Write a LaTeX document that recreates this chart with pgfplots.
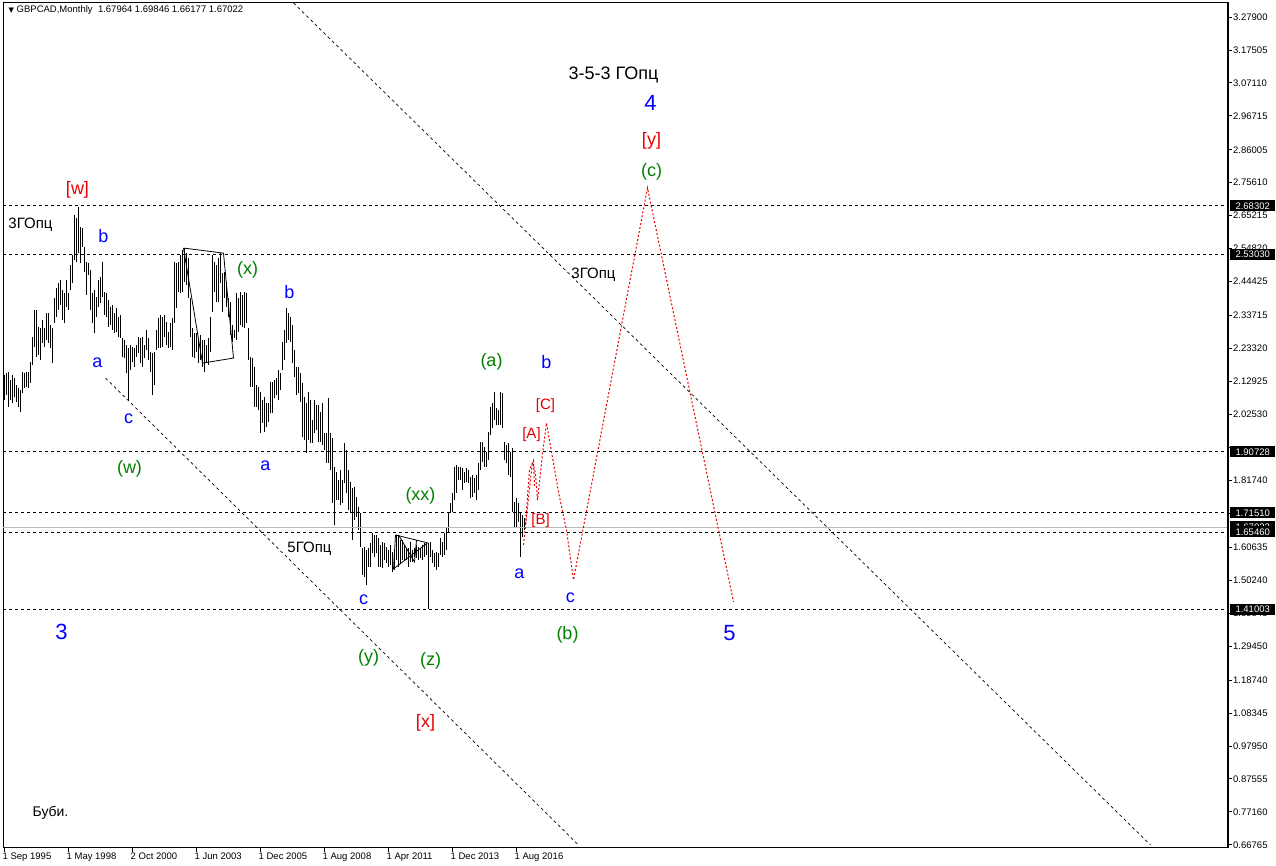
\documentclass[border=0pt]{standalone}
\usepackage{fontspec}
\setmainfont{Liberation Sans}
\newfontfamily\dejavu{DejaVu Sans}
\usepackage{pgfplots}
\usepackage{pgfplotstable}
\pgfplotsset{compat=1.18}
\definecolor{wblue}{RGB}{0,0,255}
\definecolor{wgreen}{RGB}{0,128,0}
\definecolor{wred}{RGB}{230,0,0}
\pgfplotstableread{
i h l
0 2.150 2.071
1 2.156 2.087
2 2.159 2.049
3 2.134 2.071
4 2.150 2.061
5 2.140 2.080
6 2.118 2.064
7 2.109 2.049
8 2.102 2.033
9 2.159 2.093
10 2.156 2.109
11 2.159 2.112
12 2.159 2.109
13 2.191 2.124
14 2.270 2.181
15 2.355 2.238
16 2.355 2.206
17 2.301 2.213
18 2.298 2.197
19 2.323 2.251
20 2.298 2.238
21 2.345 2.260
22 2.345 2.251
23 2.307 2.235
24 2.298 2.187
25 2.393 2.314
26 2.424 2.333
27 2.440 2.355
28 2.449 2.370
29 2.418 2.323
30 2.408 2.314
31 2.449 2.364
32 2.408 2.355
33 2.497 2.418
34 2.528 2.440
35 2.654 2.512
36 2.645 2.506
37 2.680 2.534
38 2.617 2.503
39 2.613 2.553
40 2.553 2.475
41 2.506 2.402
42 2.503 2.465
43 2.481 2.355
44 2.408 2.314
45 2.418 2.282
46 2.396 2.333
47 2.449 2.364
48 2.459 2.377
49 2.506 2.396
50 2.411 2.339
51 2.408 2.333
52 2.386 2.301
53 2.364 2.307
54 2.370 2.292
55 2.345 2.282
56 2.361 2.285
57 2.333 2.270
58 2.339 2.266
59 2.266 2.206
60 2.260 2.203
61 2.244 2.156
62 2.235 2.071
63 2.244 2.165
64 2.238 2.191
65 2.235 2.175
66 2.244 2.206
67 2.270 2.219
68 2.266 2.187
69 2.270 2.175
70 2.244 2.203
71 2.292 2.229
72 2.266 2.197
73 2.222 2.159
74 2.219 2.087
75 2.222 2.118
76 2.292 2.229
77 2.330 2.235
78 2.339 2.235
79 2.333 2.238
80 2.339 2.270
81 2.317 2.244
82 2.285 2.235
83 2.314 2.238
84 2.330 2.229
85 2.506 2.314
86 2.503 2.361
87 2.506 2.411
88 2.528 2.408
89 2.544 2.411
90 2.550 2.443
91 2.534 2.434
92 2.519 2.393
93 2.393 2.270
94 2.298 2.206
95 2.282 2.203
96 2.282 2.222
97 2.266 2.187
98 2.276 2.197
99 2.260 2.175
100 2.260 2.159
101 2.244 2.187
102 2.266 2.181
103 2.333 2.222
104 2.528 2.348
105 2.506 2.411
106 2.497 2.380
107 2.519 2.380
108 2.534 2.440
109 2.471 2.348
110 2.475 2.393
111 2.443 2.364
112 2.393 2.333
113 2.380 2.276
114 2.307 2.254
115 2.292 2.266
116 2.408 2.260
117 2.393 2.285
118 2.411 2.307
119 2.402 2.301
120 2.411 2.298
121 2.408 2.314
122 2.298 2.197
123 2.206 2.112
124 2.203 2.112
125 2.175 2.049
126 2.118 2.049
127 2.112 2.039
128 2.096 1.967
129 2.071 1.998
130 2.080 1.970
131 2.061 1.986
132 2.061 2.001
133 2.128 2.030
134 2.128 2.030
135 2.134 2.077
136 2.140 2.087
137 2.165 2.071
138 2.156 2.102
139 2.254 2.165
140 2.292 2.197
141 2.361 2.251
142 2.345 2.260
143 2.333 2.254
144 2.307 2.187
145 2.229 2.143
146 2.175 2.087
147 2.175 2.093
148 2.156 2.064
149 2.124 1.954
150 2.080 1.945
151 2.061 1.904
152 2.096 1.945
153 2.071 1.935
154 2.008 1.935
155 2.071 1.967
156 2.055 1.976
157 2.055 1.938
158 2.033 1.938
159 2.061 1.929
160 1.967 1.913
161 1.967 1.872
162 2.077 1.872
163 1.967 1.850
164 1.951 1.746
165 1.859 1.676
166 1.844 1.755
167 1.818 1.755
168 1.850 1.740
169 1.818 1.746
170 1.935 1.809
171 1.913 1.777
172 1.850 1.724
173 1.812 1.714
174 1.793 1.629
175 1.796 1.692
176 1.765 1.702
177 1.733 1.661
178 1.714 1.607
179 1.604 1.519
180 1.607 1.512
181 1.598 1.487
182 1.604 1.544
183 1.620 1.544
184 1.651 1.588
185 1.645 1.576
186 1.645 1.588
187 1.636 1.544
188 1.613 1.544
189 1.623 1.541
190 1.620 1.566
191 1.607 1.557
192 1.598 1.544
193 1.613 1.550
194 1.591 1.528
195 1.591 1.535
196 1.645 1.566
197 1.645 1.544
198 1.629 1.557
199 1.629 1.566
200 1.613 1.566
201 1.604 1.566
202 1.604 1.544
203 1.623 1.560
204 1.598 1.560
205 1.604 1.576
206 1.613 1.572
207 1.607 1.566
208 1.604 1.572
209 1.613 1.566
210 1.620 1.576
211 1.620 1.582
212 1.620 1.410
213 1.623 1.576
214 1.598 1.557
215 1.588 1.544
216 1.591 1.535
217 1.588 1.544
218 1.636 1.582
219 1.623 1.576
220 1.651 1.582
221 1.667 1.598
222 1.718 1.654
223 1.746 1.714
224 1.777 1.718
225 1.859 1.755
226 1.866 1.777
227 1.859 1.818
228 1.859 1.818
229 1.856 1.787
230 1.844 1.809
231 1.856 1.812
232 1.850 1.809
233 1.828 1.762
234 1.834 1.765
235 1.825 1.777
236 1.834 1.755
237 1.872 1.787
238 1.938 1.850
239 1.938 1.875
240 1.923 1.859
241 1.907 1.859
242 1.970 1.882
243 2.049 1.960
244 2.061 1.983
245 2.096 2.008
246 2.046 1.992
247 2.039 1.992
248 2.096 1.992
249 2.093 1.983
250 1.938 1.882
251 1.929 1.872
252 1.935 1.834
253 1.907 1.828
254 1.919 1.718
255 1.749 1.667
256 1.762 1.670
257 1.746 1.686
258 1.718 1.576
259 1.708 1.639
260 1.69846 1.66177
}\bars
\begin{document}
\begin{tikzpicture}
\useasboundingbox (0,0) rectangle (1276pt,866pt);
\begin{axis}[
  at={(3pt,18pt)}, anchor=south west,
  width=1225pt, height=845pt, scale only axis,
  xmin=-0.75, xmax=611.75, ymin=0.6575, ymax=3.3231,
  axis line style={black, line width=1pt},
  tick style={black, line width=0.8pt},
  tick align=outside, major tick length=4pt,
  xtick pos=lower, ytick pos=upper,
  xticklabel pos=lower, yticklabel pos=upper,
  xtick={0,32,64,96,128,160,192,224,256},
  xticklabels={1 Sep 1995, 1 May 1998, 2 Oct 2000, 1 Jun 2003, 1 Dec 2005, 1 Aug 2008, 1 Apr 2011, 1 Dec 2013, 1 Aug 2016},
  xticklabel style={anchor=north west, font=\fontsize{9.5}{11}\selectfont, inner sep=0pt, xshift=-2pt, yshift=-1pt},
  ytick={3.27900,3.17505,3.07110,2.96715,2.86005,2.75610,2.65215,2.54820,2.44425,2.33715,2.23320,2.12925,2.02530,1.92135,1.81740,1.71345,1.60635,1.50240,1.39845,1.29450,1.18740,1.08345,0.97950,0.87555,0.77160,0.66765},
  yticklabels={3.27900,3.17505,3.07110,2.96715,2.86005,2.75610,2.65215,2.54820,2.44425,2.33715,2.23320,2.12925,2.02530,{},1.81740,{},1.60635,1.50240,1.39845,1.29450,1.18740,1.08345,0.97950,0.87555,0.77160,0.66765},
  yticklabel style={anchor=west, font=\fontsize{9.5}{11}\selectfont, inner sep=0pt, xshift=1pt},
  clip=true,
]
% price bars (high-low)
\addplot[draw=none, no markers, forget plot,
  error bars/.cd, y dir=minus, y explicit, error mark=none,
  error bar style={draw=black, solid, line width=1pt}]
  table[x=i, y=h, y error minus expr=\thisrow{h}-\thisrow{l}] {\bars};
% current price line
\addplot[gray!55, line width=0.8pt] coordinates {(-0.75,1.67022) (611.75,1.67022)};
% horizontal levels
\foreach \lv in {2.68302,2.53030,1.90728,1.71510,1.65460,1.41003}{
  \edef\tmp{\noexpand\addplot[black, dash pattern=on 3pt off 3pt, line width=0.8pt] coordinates {(-0.75,\lv) (611.75,\lv)};}
  \tmp
}
% channel lines
\addplot[black, dash pattern=on 3pt off 3pt, line width=0.7pt] coordinates {(144.5,3.3231) (573,0.667)};
\addplot[black, dash pattern=on 3pt off 3pt, line width=0.7pt] coordinates {(50.5,2.140) (287,0.667)};
% drawn box and triangle
\addplot[black, line width=0.8pt] coordinates {(89.5,2.550) (109.5,2.534) (114.5,2.203) (99,2.187) (89.5,2.550)};
\addplot[black, line width=0.8pt] coordinates {(195.5,1.645) (194.5,1.538) (211.5,1.620) (195.5,1.645)};
\addplot[black, line width=0.8pt] coordinates {(197,1.645) (205,1.560) (206,1.628)};
% red projection
\addplot[wred, dash pattern=on 2pt off 2pt, line width=1pt] coordinates {(259.5,1.613) (263,1.820) (264,1.875) (265.5,1.840) (266.5,1.755) (269,1.900) (271,1.998) (277,1.780) (281,1.660) (284.5,1.503) (321.5,2.740) (364.5,1.434)};
\addplot[wred, dash pattern=on 2pt off 2pt, line width=1pt] coordinates {(260.5,1.680) (262.5,1.850) (264.5,1.880) (265,1.800)};
% labels
\node[font=\fontsize{18}{20}\selectfont] at (axis cs:304.5,3.096) {3-5-3 ГОпц};
\node[font=\fontsize{22}{24}\selectfont, text=wblue] at (axis cs:323,3.008) {4};
\node[font=\fontsize{18}{20}\selectfont, text=wred] at (axis cs:323.5,2.888) {[y]};
\node[font=\fontsize{18}{20}\selectfont, text=wgreen] at (axis cs:323.5,2.790) {(c)};
\node[font=\fontsize{18}{20}\selectfont, text=wred] at (axis cs:36.5,2.733) {[w]};
\node[font=\fontsize{15}{17}\selectfont] at (axis cs:13,2.623) {3ГОпц};
\node[font=\fontsize{18}{20}\selectfont, text=wblue] at (axis cs:49.5,2.588) {b};
\node[font=\fontsize{18}{20}\selectfont, text=wgreen] at (axis cs:121.5,2.481) {(x)};
\node[font=\fontsize{18}{20}\selectfont, text=wblue] at (axis cs:142.5,2.412) {b};
\node[font=\fontsize{15}{17}\selectfont] at (axis cs:294.5,2.465) {3ГОпц};
\node[font=\fontsize{18}{20}\selectfont, text=wgreen] at (axis cs:243.5,2.191) {(a)};
\node[font=\fontsize{18}{20}\selectfont, text=wblue] at (axis cs:271,2.191) {b};
\node[font=\fontsize{18}{20}\selectfont, text=wblue] at (axis cs:46.5,2.187) {a};
\node[font=\fontsize{18}{20}\selectfont, text=wblue] at (axis cs:62,2.011) {c};
\node[font=\fontsize{15}{17}\selectfont, text=wred] at (axis cs:270.5,2.052) {[C]};
\node[font=\fontsize{15}{17}\selectfont, text=wred] at (axis cs:263.5,1.960) {[A]};
\node[font=\fontsize{18}{20}\selectfont, text=wblue] at (axis cs:130.5,1.863) {a};
\node[font=\fontsize{18}{20}\selectfont, text=wgreen] at (axis cs:62.5,1.853) {(w)};
\node[font=\fontsize{18}{20}\selectfont, text=wgreen] at (axis cs:208,1.768) {(xx)};
\node[font=\fontsize{15}{17}\selectfont, text=wred] at (axis cs:268,1.689) {[B]};
\node[font=\fontsize{15}{17}\selectfont] at (axis cs:152.5,1.601) {5ГОпц};
\node[font=\fontsize{18}{20}\selectfont, text=wblue] at (axis cs:257.5,1.522) {a};
\node[font=\fontsize{18}{20}\selectfont, text=wblue] at (axis cs:179.5,1.440) {c};
\node[font=\fontsize{18}{20}\selectfont, text=wblue] at (axis cs:283,1.446) {c};
\node[font=\fontsize{22}{24}\selectfont, text=wblue] at (axis cs:28.5,1.339) {3};
\node[font=\fontsize{18}{20}\selectfont, text=wgreen] at (axis cs:281.5,1.330) {(b)};
\node[font=\fontsize{22}{24}\selectfont, text=wblue] at (axis cs:362.5,1.336) {5};
\node[font=\fontsize{18}{20}\selectfont, text=wgreen] at (axis cs:182,1.257) {(y)};
\node[font=\fontsize{18}{20}\selectfont, text=wgreen] at (axis cs:213,1.248) {(z)};
\node[font=\fontsize{18}{20}\selectfont, text=wred] at (axis cs:210.5,1.052) {[x]};
\node[font=\fontsize{14}{16}\selectfont] at (axis cs:23,0.768) {Буби.};
\node[anchor=west, font=\fontsize{9.5}{11}\selectfont, inner sep=0pt] at (axis cs:2,3.3000) {{\dejavu\fontsize{7}{8}\selectfont▼}\ GBPCAD,Monthly\ \ 1.67964 1.69846 1.66177 1.67022};
\coordinate (C0) at (axis cs:611.75,1.67022);
\coordinate (C1) at (axis cs:611.75,2.68302);
\coordinate (C2) at (axis cs:611.75,2.53030);
\coordinate (C3) at (axis cs:611.75,1.90728);
\coordinate (C4) at (axis cs:611.75,1.71510);
\coordinate (C5) at (axis cs:611.75,1.65460);
\coordinate (C6) at (axis cs:611.75,1.41003);
\end{axis}
\draw[black, line width=2pt] (current axis.south east) -- (current axis.north east);
\tikzset{pbox/.style={fill=black, text=white, anchor=west, font=\fontsize{9.5}{11}\selectfont, inner xsep=4pt, inner ysep=1pt, minimum height=11pt, minimum width=45pt}}
\node[pbox] at ([xshift=2pt]C0) {1.67022};
\node[pbox] at ([xshift=2pt]C1) {2.68302};
\node[pbox] at ([xshift=2pt]C2) {2.53030};
\node[pbox] at ([xshift=2pt]C3) {1.90728};
\node[pbox] at ([xshift=2pt]C4) {1.71510};
\node[pbox] at ([xshift=2pt]C5) {1.65460};
\node[pbox] at ([xshift=2pt]C6) {1.41003};
\end{tikzpicture}
\end{document}
